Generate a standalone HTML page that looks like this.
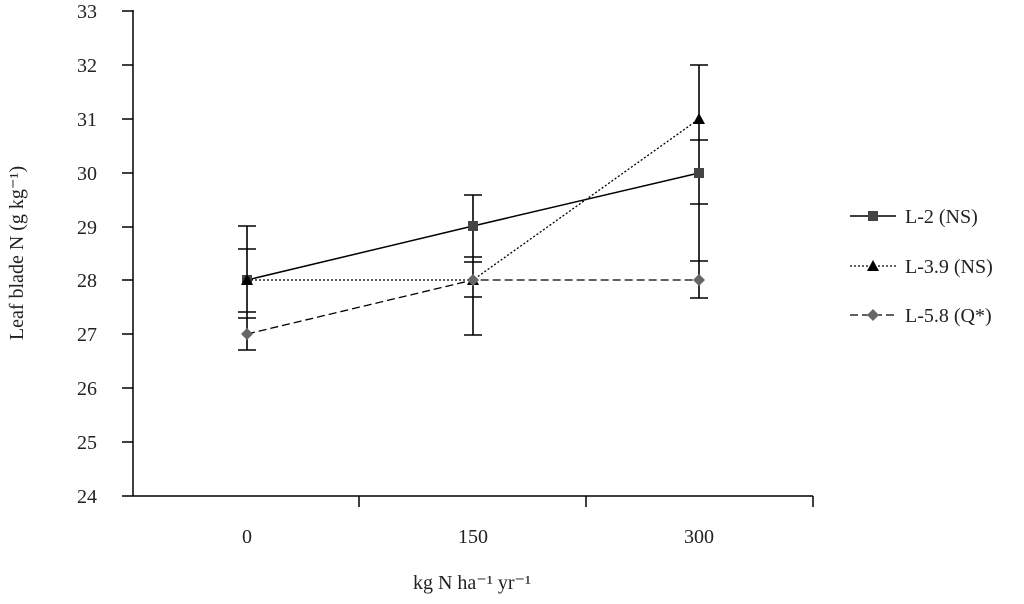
<!DOCTYPE html>
<html><head><style>
body{margin:0;background:#fff;}
svg text{font-family:"Liberation Serif",serif;font-size:20px;fill:#222;}
</style></head><body>
<svg width="1024" height="599" xmlns="http://www.w3.org/2000/svg">
<g stroke="#000" stroke-width="1.5" fill="none">
<line x1="133" y1="10" x2="133" y2="496"/>
<line x1="133" y1="496" x2="813" y2="496"/>
<line x1="122" y1="11" x2="133" y2="11"/>
<line x1="122" y1="65" x2="133" y2="65"/>
<line x1="122" y1="119" x2="133" y2="119"/>
<line x1="122" y1="173" x2="133" y2="173"/>
<line x1="122" y1="227" x2="133" y2="227"/>
<line x1="122" y1="280" x2="133" y2="280"/>
<line x1="122" y1="334" x2="133" y2="334"/>
<line x1="122" y1="388" x2="133" y2="388"/>
<line x1="122" y1="442" x2="133" y2="442"/>
<line x1="122" y1="496" x2="133" y2="496"/>
<line x1="359" y1="496" x2="359" y2="507"/>
<line x1="586" y1="496" x2="586" y2="507"/>
<line x1="813" y1="496" x2="813" y2="507"/>
</g>
<g text-anchor="end">
<text x="97" y="18">33</text><text x="97" y="72">32</text><text x="97" y="126">31</text>
<text x="97" y="180">30</text><text x="97" y="234">29</text><text x="97" y="287">28</text>
<text x="97" y="341">27</text><text x="97" y="395">26</text><text x="97" y="449">25</text>
<text x="97" y="503">24</text>
</g>
<g text-anchor="middle">
<text x="247" y="543">0</text><text x="473" y="543">150</text><text x="699" y="543">300</text>
<text x="472" y="589">kg N ha⁻¹ yr⁻¹</text>
<text transform="translate(23,253) rotate(-90)">Leaf blade N (g kg⁻¹)</text>
</g>
<!-- error bars -->
<g stroke="#000" stroke-width="1.6">
<line x1="247" y1="226" x2="247" y2="350"/>
<line x1="238" y1="226" x2="256" y2="226"/><line x1="238" y1="249" x2="256" y2="249"/>
<line x1="238" y1="312" x2="256" y2="312"/><line x1="238" y1="318" x2="256" y2="318"/>
<line x1="238" y1="350" x2="256" y2="350"/>
<line x1="473" y1="195" x2="473" y2="335"/>
<line x1="464" y1="195" x2="482" y2="195"/><line x1="464" y1="257" x2="482" y2="257"/>
<line x1="464" y1="262" x2="482" y2="262"/><line x1="464" y1="297" x2="482" y2="297"/>
<line x1="464" y1="335" x2="482" y2="335"/>
<line x1="699" y1="65" x2="699" y2="298"/>
<line x1="690" y1="65" x2="708" y2="65"/><line x1="690" y1="140" x2="708" y2="140"/>
<line x1="690" y1="204" x2="708" y2="204"/><line x1="690" y1="261" x2="708" y2="261"/>
<line x1="690" y1="298" x2="708" y2="298"/>
</g>
<polyline points="247,280 473,226 699,173" fill="none" stroke="#000" stroke-width="1.5"/>
<polyline points="247,280 473,280 699,119" fill="none" stroke="#000" stroke-width="1.3" stroke-dasharray="2,2"/>
<polyline points="247,334 473,280 699,280" fill="none" stroke="#000" stroke-width="1.3" stroke-dasharray="8,4"/>
<g fill="#444">
<rect x="242" y="275" width="10" height="10"/><rect x="468" y="221" width="10" height="10"/><rect x="694" y="168" width="10" height="10"/>
</g>
<g fill="#000">
<polygon points="247,274 253,285 241,285"/><polygon points="473,274 479,285 467,285"/><polygon points="699,113 705,124 693,124"/>
</g>
<g fill="#666">
<polygon points="247,328 253,334 247,340 241,334"/><polygon points="473,274 479,280 473,286 467,280"/><polygon points="699,274 705,280 699,286 693,280"/>
</g>
<line x1="850" y1="216" x2="896" y2="216" stroke="#000" stroke-width="1.5"/>
<rect x="868" y="211" width="10" height="10" fill="#444"/>
<text x="905" y="223">L-2 (NS)</text>
<line x1="850" y1="266" x2="896" y2="266" stroke="#000" stroke-width="1.3" stroke-dasharray="2,2"/>
<polygon points="873,260 879,271 867,271" fill="#000"/>
<text x="905" y="273">L-3.9 (NS)</text>
<line x1="850" y1="315" x2="896" y2="315" stroke="#000" stroke-width="1.3" stroke-dasharray="8,4"/>
<polygon points="873,309 879,315 873,321 867,315" fill="#666"/>
<text x="905" y="322">L-5.8 (Q*)</text>
</svg>
</body></html>
